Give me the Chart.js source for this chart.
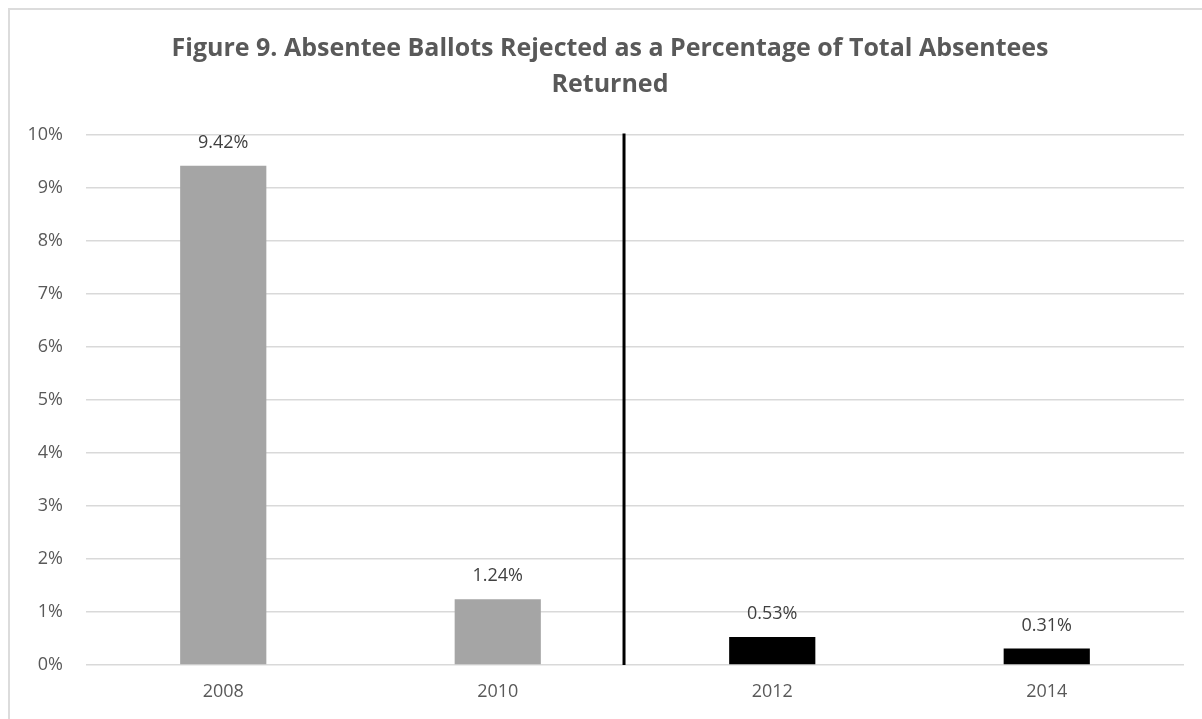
<!DOCTYPE html>
<html>
<head>
<meta charset="utf-8">
<title>Figure 9. Absentee Ballots Rejected</title>
<script src="https://cdn.jsdelivr.net/npm/chart.js@4.4.1/dist/chart.umd.min.js"></script>
<style>
  html, body { margin: 0; padding: 0; background: #ffffff; }
  #wrap { position: relative; width: 1202px; height: 719px; overflow: hidden; }
  #chart { position: absolute; left: 0; top: 0; }
  #frame {
    position: absolute; left: 8px; top: 8px; width: 1300px; height: 800px;
    border-left: 2px solid #dcdcdc; border-top: 2px solid #dcdcdc;
    pointer-events: none; box-sizing: border-box;
  }
</style>
</head>
<body>
<div id="wrap">
  <canvas id="chart" width="1202" height="719"></canvas>
  <div id="frame"></div>
</div>
<script>
// Election years and share of returned absentee ballots that were rejected (%)
const years = ['2008', '2010', '2012', '2014'];
const rejectedPct = [9.42, 1.24, 0.53, 0.31];
const barColors = ['#A5A5A5', '#A5A5A5', '#000000', '#000000'];
const yTicks = [0, 1, 2, 3, 4, 5, 6, 7, 8, 9, 10];
const titleLines = ['Figure 9. Absentee Ballots Rejected as a Percentage of Total Absentees', 'Returned'];
// Separator between the 2010 and 2012 elections, in category units
const dividerAt = 1.46;

const FONT = "'Open Sans', 'Noto Sans', sans-serif";

// Center the title over the plot area rather than the whole canvas
const titleOverPlot = {
  id: 'titleOverPlot',
  afterLayout(chart) {
    const t = chart.titleBlock;
    if (t) {
      t.left = 36;
      t.right = chart.chartArea.right;
      t.width = t.right - t.left;
    }
  }
};

// Value labels above each bar
const barLabels = {
  id: 'barLabels',
  afterDatasetsDraw(chart) {
    const ctx = chart.ctx;
    const meta = chart.getDatasetMeta(0);
    ctx.save();
    ctx.font = '18px ' + FONT;
    ctx.fillStyle = '#404040';
    ctx.textAlign = 'center';
    ctx.textBaseline = 'middle';
    meta.data.forEach((bar, i) => {
      ctx.fillText(rejectedPct[i].toFixed(2) + '%', bar.x, bar.y - 23);
    });
    ctx.restore();
  }
};

// Vertical rule separating the two periods
const periodDivider = {
  id: 'periodDivider',
  afterDatasetsDraw(chart) {
    const { ctx, scales: { x, y } } = chart;
    const px = x.getPixelForValue(dividerAt);
    ctx.save();
    ctx.strokeStyle = '#000000';
    ctx.lineWidth = 3;
    ctx.beginPath();
    ctx.moveTo(px, y.getPixelForValue(yTicks[yTicks.length - 1]) - 1.5);
    ctx.lineTo(px, y.getPixelForValue(yTicks[0]));
    ctx.stroke();
    ctx.restore();
  }
};

new Chart(document.getElementById('chart'), {
  type: 'bar',
  data: {
    labels: years,
    datasets: [{
      data: rejectedPct,
      backgroundColor: barColors,
      borderWidth: 0,
      categoryPercentage: 1,
      barPercentage: 0.314
    }]
  },
  options: {
    responsive: false,
    animation: false,
    layout: { padding: { left: 10, right: 18, top: 0, bottom: 14 } },
    plugins: {
      legend: { display: false },
      tooltip: { enabled: false },
      title: {
        display: true,
        text: titleLines,
        color: '#595959',
        font: { family: FONT, size: 25, weight: 'bold', lineHeight: 1.44 },
        padding: { top: 31, bottom: 32 }
      }
    },
    scales: {
      x: {
        grid: { display: false, drawTicks: false },
        border: { display: false },
        ticks: { color: '#595959', font: { family: FONT, size: 18 }, padding: 16 },
        afterFit(scale) { scale.height = 40; }
      },
      y: {
        min: yTicks[0],
        max: yTicks[yTicks.length - 1],
        afterBuildTicks(scale) { scale.ticks = yTicks.map(v => ({ value: v })); },
        grid: { color: '#D9D9D9', lineWidth: 1.5, drawTicks: false },
        border: { display: false },
        ticks: {
          color: '#595959',
          font: { family: FONT, size: 18 },
          padding: 23,
          callback: v => v + '%'
        },
        afterFit(scale) { scale.width = 76; }
      }
    }
  },
  plugins: [titleOverPlot, barLabels, periodDivider]
});
</script>
</body>
</html>
